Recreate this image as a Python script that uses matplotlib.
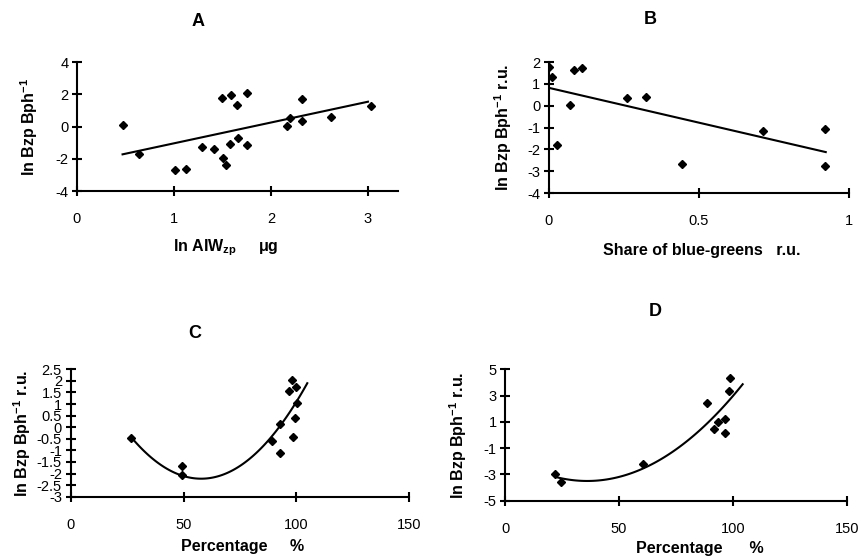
import matplotlib
matplotlib.use("Agg")
import matplotlib.pyplot as plt
import numpy as np
from matplotlib.ticker import FuncFormatter

plt.rcParams['font.family'] = ['Liberation Sans', 'DejaVu Sans']
plt.rcParams['mathtext.fontset'] = 'custom'
plt.rcParams['mathtext.bf'] = 'Liberation Sans:bold'
plt.rcParams['mathtext.rm'] = 'Liberation Sans:bold'
plt.rcParams['mathtext.default'] = 'bf'
plt.rcParams['axes.unicode_minus'] = False

# Panel A
a_x = [0.47, 0.64, 1.01, 1.12, 1.29, 1.41, 1.50, 1.59, 1.65, 1.75, 1.51, 1.54,
       1.58, 1.66, 1.75, 2.17, 2.20, 2.32, 2.32, 2.62, 3.03]
a_y = [0.12, -1.72, -2.71, -2.65, -1.29, -1.37, 1.79, 1.93, 1.36, 2.10, -1.93, -2.36,
       -1.06, -0.69, -1.12, 0.03, 0.51, 1.69, 0.34, 0.61, 1.27]
a_fit = [1.29, -2.33]          # linear trend
a_fit_range = [0.47, 3.0]

# Panel B
b_x = [0.0, 0.011, 0.083, 0.109, 0.072, 0.028, 0.261, 0.323, 0.444, 0.714, 0.922, 0.922]
b_y = [1.77, 1.33, 1.65, 1.71, 0.05, -1.79, 0.35, 0.41, -2.66, -1.18, -1.07, -2.78]
b_fit = [-3.19, 0.82]
b_fit_range = [0.0, 0.923]

# Panel C
c_x = [26.9, 49.3, 49.3, 89.0, 92.7, 92.7, 96.8, 98.0, 99.6, 100.2, 99.2, 98.6]
c_y = [-0.45, -1.68, -2.08, -0.58, 0.12, -1.10, 1.56, 2.04, 1.74, 1.03, 0.41, -0.41]
c_fit = [0.001866, -0.2157, 4.01]   # quadratic trend
c_fit_range = [27, 104.8]

# Panel D
d_x = [21.8, 24.6, 60.5, 88.6, 91.7, 93.3, 96.4, 96.4, 98.3, 98.9]
d_y = [-2.99, -3.60, -2.18, 2.41, 0.46, 0.96, 1.22, 0.18, 3.35, 4.37]
d_fit = [0.001578, -0.1136, -1.455]
d_fit_range = [22, 104.3]

ylab = 'ln Bzp Bph$^{-1}$'
fmt = FuncFormatter(lambda v, p: '%g' % v)

fig = plt.figure(figsize=(8.63, 5.57), dpi=100)

panels = [
    # rect, x, y, fit, fit range, xlim, ylim, xticks, yticks, title, title pos, xlabel, xlabel pos, ylabel
    ([0.0892, 0.657, 0.372, 0.2316], a_x, a_y, a_fit, a_fit_range, (0, 3.31), (-4, 4),
     [0, 1, 2, 3], [-4, -2, 0, 2, 4], 'A', (198, 22),
     'ln AIW$_{zp}$     μg', (226, 248), ylab, 29),
    ([0.636, 0.6535, 0.3476, 0.235], b_x, b_y, b_fit, b_fit_range, (0, 1), (-4, 2),
     [0, 0.5, 1], [-4, -3, -2, -1, 0, 1, 2], 'B', (650, 20),
     'Share of blue-greens   r.u.', (702, 250), ylab + ' r.u.', 503),
    ([0.0819, 0.1083, 0.3924, 0.2287], c_x, c_y, c_fit, c_fit_range, (0, 150), (-3, 2.5),
     [0, 50, 100, 150], list(np.arange(-3, 2.51, 0.5)), 'C', (195, 333),
     'Percentage     %', (243, 547), ylab + ' r.u.', 22),
    ([0.5855, 0.1011, 0.3956, 0.2359], d_x, d_y, d_fit, d_fit_range, (0, 150), (-5, 5),
     [0, 50, 100, 150], [-5, -3, -1, 1, 3, 5], 'D', (655, 312),
     'Percentage      %', (700, 549), ylab + ' r.u.', 458),
]

W, H = 863.0, 557.0
for (rect, xs, ys, fit, frange, xl, yl, xt, yt, title, tpos,
     xlabel, xlpos, ylabel, ylx) in panels:
    ax = fig.add_axes(rect)
    ax.plot(xs, ys, linestyle='none', marker='D', markersize=4.2, color='black')
    fx = np.linspace(frange[0], frange[1], 100)
    ax.plot(fx, np.polyval(fit, fx), color='black', lw=1.5)
    ax.set_xlim(*xl)
    ax.set_ylim(*yl)
    ax.set_xticks(xt)
    ax.set_yticks(yt)
    ax.xaxis.set_major_formatter(fmt)
    ax.yaxis.set_major_formatter(fmt)
    for s in ['top', 'right']:
        ax.spines[s].set_visible(False)
    for s in ['left', 'bottom']:
        ax.spines[s].set_linewidth(1.5)
    ax.tick_params(axis='both', direction='inout', length=6.5, width=1.5, labelsize=10.5)
    ax.tick_params(axis='x', pad=12)
    ax.tick_params(axis='y', pad=3)
    ax.patch.set_visible(False)
    fig.text(tpos[0] / W, 1 - tpos[1] / H, title, fontsize=13, fontweight='bold',
             ha='center', va='center')
    fig.text(xlpos[0] / W, 1 - xlpos[1] / H, xlabel, fontsize=11.5, fontweight='bold',
             ha='center', va='center')
    fig.text(ylx / W, rect[1] + rect[3] / 2, ylabel, fontsize=11.5, fontweight='bold',
             ha='center', va='center', rotation=90)

fig.savefig('out.png', dpi=100)
